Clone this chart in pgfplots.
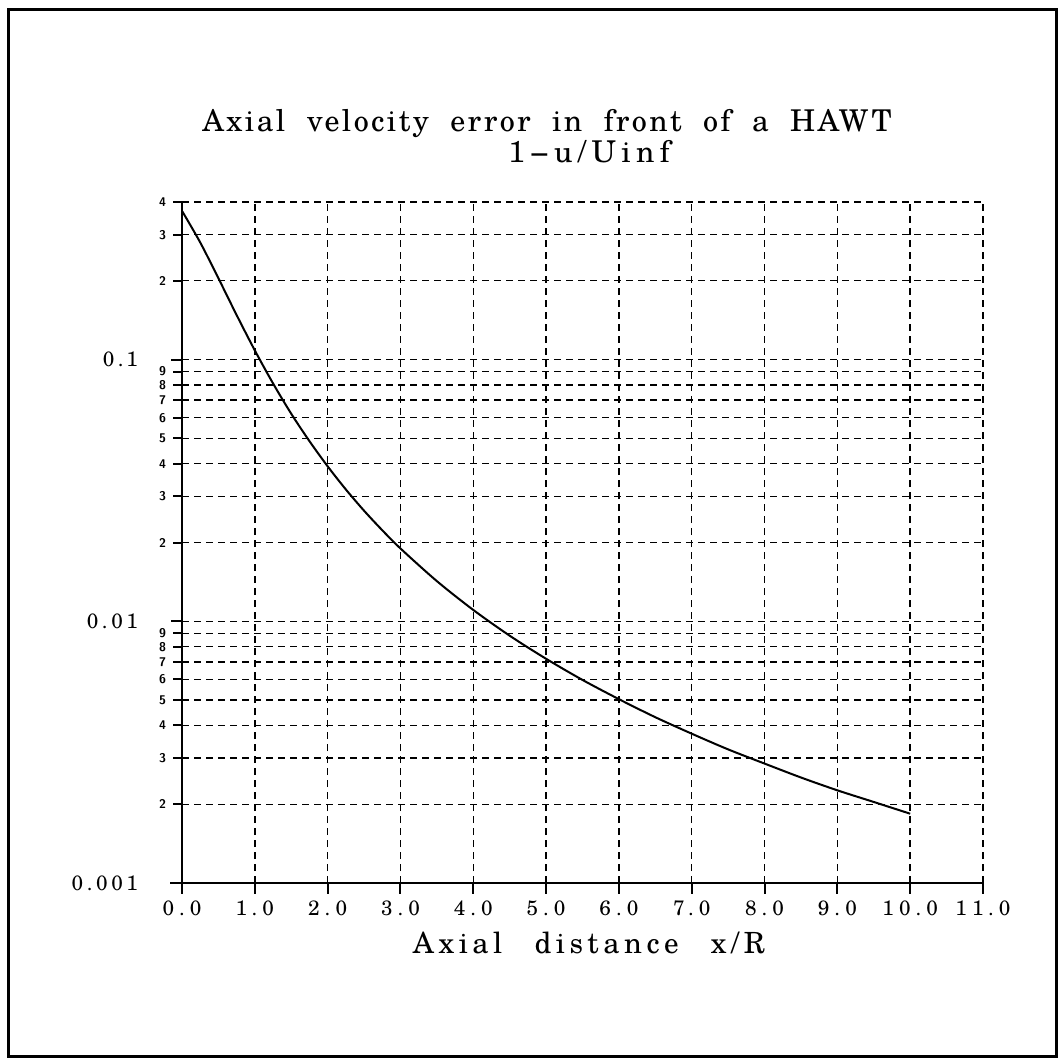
\documentclass[border=0pt]{standalone}
\usepackage{fontspec}
\usepackage{pgfplots}
\pgfplotsset{compat=1.18}
\newfontfamily\titlefont[LetterSpace=8,WordSpace=2.0]{texgyreschola-regular.otf}
\newfontfamily\subtitlefont[LetterSpace=18]{texgyreschola-regular.otf}
\newfontfamily\labelfont[LetterSpace=15.5,WordSpace=2.55]{texgyreschola-regular.otf}
\newfontfamily\tickfont[LetterSpace=24]{texgyreschola-regular.otf}
\newfontfamily\ytickfont[LetterSpace=17]{texgyreschola-regular.otf}
\begin{document}
\begin{tikzpicture}
\useasboundingbox (0,0) rectangle (528.5pt,529.5pt);
\draw[line width=1.5pt] (4pt,1pt) -- (4pt,524.5pt) -- (528pt,524.5pt) -- (528pt,1pt) -- cycle;
\node[anchor=base west, inner sep=0pt, font=\titlefont\fontsize{15}{18}\selectfont] at (101pt,463.5pt) {Axial velocity error in front of a HAWT};
\node[anchor=base west, inner sep=0pt, font=\subtitlefont\fontsize{15}{18}\selectfont] at (254pt,448pt) {1−u/Uinf};
\begin{axis}[
  at={(91pt,88pt)}, anchor=south west,
  scale only axis, width=400.5pt, height=340.5pt,
  xmin=0, xmax=11, ymin=0.001, ymax=0.4,
  ymode=log,
  axis x line=bottom, axis y line=left,
  axis line style={line width=1pt,-},
  clip=false,
  xtick={0,1,2,3,4,5,6,7,8,9,10,11},
  xticklabels={0.0,1.0,2.0,3.0,4.0,5.0,6.0,7.0,8.0,9.0,10.0,11.0},
  ytick={0.001,0.01,0.1},
  yticklabels={\raisebox{-2.5pt}{0.001\hspace*{13pt}},\raisebox{-2.5pt}{0.01\hspace*{13pt}},\raisebox{-2.5pt}{0.1\hspace*{13pt}}},
  extra y ticks={0.002,0.003,0.004,0.005,0.006,0.007,0.008,0.009,0.02,0.03,0.04,0.05,0.06,0.07,0.08,0.09,0.2,0.3,0.4},
  extra y tick labels={2,3,4,5,6,7,8,9,2,3,4,5,6,7,8,9,2,3,4},
  extra y tick style={grid=major, major tick length=4.5pt,
     yticklabel style={font=\sffamily\bfseries\fontsize{6.3}{6.3}\selectfont}},
  xminorticks=false, yminorticks=false,
  tick align=outside,
  major tick length=5.5pt,
  tick style={line width=1pt, black},
  grid=major,
  major grid style={line width=0.7pt, black, dash pattern=on 3.5pt off 2.5pt},
  xticklabel style={font=\tickfont\fontsize{10.4}{12}\selectfont},
  yticklabel style={font=\ytickfont\fontsize{10.4}{12}\selectfont},
  xlabel={Axial distance x/R},
  xlabel style={font=\labelfont\fontsize{14.6}{18}\selectfont, anchor=base, at={(rel axis cs:0.508,0)}, yshift=-35pt},
]
\draw[line width=1pt] (axis cs:-0.16,0.001) -- (axis cs:0,0.001);
\addplot[line width=1pt, black, smooth] coordinates {
(0,0.37) (0.25,0.2803) (0.5,0.2045) (0.75,0.148) (1.0,0.1084) (1.25,0.0811)
(1.5,0.0621) (1.75,0.0488) (2.0,0.0391) (2.25,0.0319) (2.5,0.02646) (2.75,0.02228)
(3.0,0.01898) (3.5,0.01424) (4.0,0.01105) (4.5,0.00881) (5.0,0.00719) (5.5,0.00597)
(6.0,0.00504) (6.5,0.00430) (7.0,0.00372) (7.5,0.00324) (8.0,0.00286) (8.5,0.00253)
(9.0,0.00226) (9.5,0.00204) (10.0,0.00184)
};
\end{axis}
\end{tikzpicture}
\end{document}
